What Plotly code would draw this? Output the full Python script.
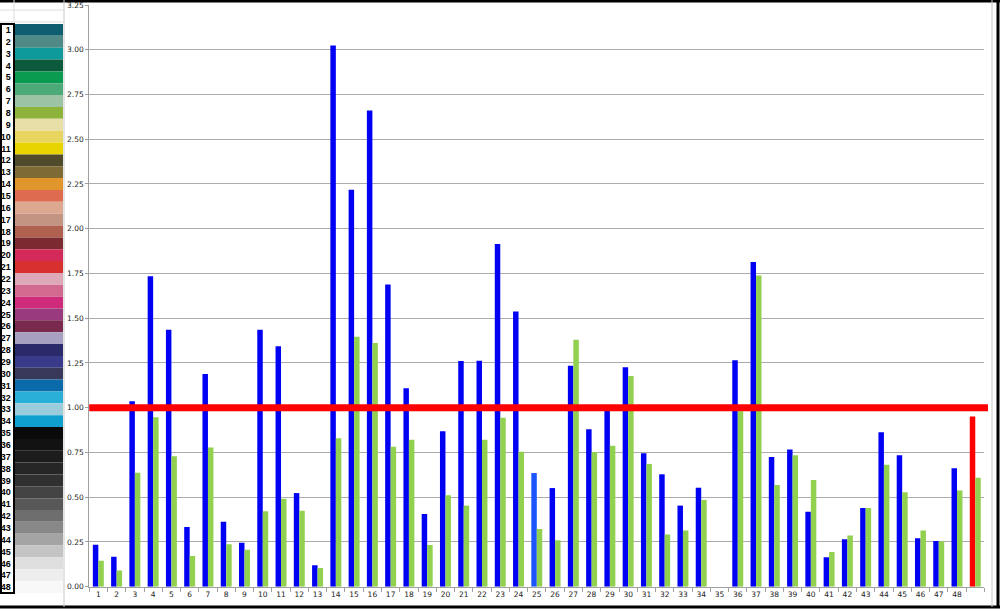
import plotly.graph_objects as go

# ---------------- data ----------------
CATEGORIES = list(range(1, 50))
TICK_LABELS = [str(i) for i in range(1, 49)] + [""]

BLUE_VALUES = [0.235, 0.167, 1.036, 1.735, 1.436, 0.333, 1.188, 0.363, 0.246, 1.436,
               1.344, 0.523, 0.120, 3.024, 2.218, 2.660, 1.688, 1.109, 0.406, 0.868,
               1.261, 1.263, 1.915, 1.538, 0.635, 0.551, 1.235, 0.880, 0.990, 1.226,
               0.746, 0.628, 0.453, 0.553, None, 1.265, 1.814, 0.724, 0.767, 0.419,
               0.165, 0.265, 0.440, 0.863, 0.735, 0.271, 0.256, 0.662, 0.951]

GREEN_VALUES = [0.145, 0.090, 0.637, 0.947, 0.729, 0.171, 0.778, 0.237, 0.207, 0.421,
                0.491, 0.425, 0.105, 0.829, 1.397, 1.361, 0.782, 0.821, 0.233, 0.511,
                0.453, 0.821, 0.944, 0.754, 0.323, 0.259, 1.380, 0.752, 0.788, 1.177,
                0.686, 0.291, 0.314, 0.485, None, 0.980, 1.739, 0.568, 0.735, 0.596,
                0.194, 0.286, 0.440, 0.682, 0.528, 0.314, 0.252, 0.538, 0.609]

THRESHOLD = 1.0
Y_TICKS = [i * 0.25 for i in range(14)]

SWATCH_IDS = [str(i) for i in range(1, 49)]
SWATCH_COLORS = ["#0E5E6F", "#4F8A87", "#0E9A9A", "#0C5A3C", "#0A9A50", "#4BAA78",
                 "#9DC3A5", "#8DB33A", "#E8DFA8", "#E8D560", "#E8D400", "#4E4A2A",
                 "#7E6A35", "#E0962A", "#DE6A50", "#DDA890", "#C49482", "#B0604E",
                 "#7A2A30", "#D42A5A", "#D8302E", "#DDA8B8", "#D26A90", "#D02A7A",
                 "#9A3A7E", "#7A2A4E", "#A8A0C0", "#2A2A6A", "#3A3A8A", "#38385A",
                 "#0A6AAA", "#2AB0D8", "#9ACCDC", "#10A0D0", "#0A0A0A", "#121212",
                 "#1C1C1C", "#262626", "#303030", "#444444", "#585858", "#6E6E6E",
                 "#888888", "#A4A4A4", "#C4C4C4", "#DEDEDE", "#EEEEEE", "#F8F8F8"]

# ---------------- styles ----------------
BLUE = "#0000F2"
BLUE_ALT = "#1A55FF"
RED = "#FF0000"
GREEN = "#92D050"

blue_colors = [BLUE] * len(CATEGORIES)
blue_colors[24] = BLUE_ALT
blue_colors[-1] = RED

W, H = 1000, 612

fig = go.Figure()

fig.add_trace(go.Bar(x=CATEGORIES, y=BLUE_VALUES, marker=dict(color=blue_colors, line=dict(width=0)),
                     name="A", showlegend=False))
fig.add_trace(go.Bar(x=CATEGORIES, y=GREEN_VALUES, marker=dict(color=GREEN, line=dict(width=0)),
                     name="B", showlegend=False))

fig.add_trace(go.Bar(y=SWATCH_IDS, x=[1] * len(SWATCH_IDS), orientation="h",
                     marker=dict(color=SWATCH_COLORS, line=dict(width=0)), width=1,
                     xaxis="x2", yaxis="y2", showlegend=False))

x_left, x_right = 89.2 / W, 984.4 / W
y_bottom, y_top = 1 - 586.7 / H, 1 - 5.0 / H

fig.update_layout(
    width=W, height=H,
    margin=dict(l=0, r=0, t=0, b=0, autoexpand=False),
    paper_bgcolor="white", plot_bgcolor="white",
    barmode="group", bargap=0.40, bargroupgap=0.0,
    font=dict(family="DejaVu Sans", color="#222222"),
    xaxis=dict(domain=[x_left, x_right], type="category", automargin=False,
               tickmode="array", tickvals=CATEGORIES, ticktext=TICK_LABELS, tickangle=0,
               ticks="outside", tickson="boundaries", ticklen=4, tickcolor="#A0A0A0",
               showline=True, linecolor="#A0A0A0", linewidth=1,
               tickfont=dict(size=7.5, color="#222222"), showgrid=False, fixedrange=True),
    yaxis=dict(domain=[y_bottom, y_top], range=[0, 3.25], automargin=False,
               tickmode="array", tickvals=Y_TICKS, tickformat=".2f",
               showgrid=True, gridcolor="#ABABAB", gridwidth=1,
               showline=True, linecolor="#A0A0A0", linewidth=1,
               ticks="outside", ticklen=3, tickcolor="#A0A0A0",
               tickfont=dict(size=7.5, color="#222222"), zeroline=False),
    xaxis2=dict(domain=[14.5 / W, 63 / W], range=[0, 1], anchor="y2", automargin=False,
                visible=False, showgrid=False),
    yaxis2=dict(domain=[1 - 593 / H, 1 - 24 / H], anchor="x2", type="category", automargin=False,
                categoryorder="array", categoryarray=SWATCH_IDS, autorange="reversed",
                showgrid=False, showline=True, linecolor="black", linewidth=2,
                ticks="", ticklabelstandoff=0,
                tickfont=dict(size=9, color="black", family="Liberation Sans", weight="bold")),
)

fig.add_hline(y=THRESHOLD, line=dict(color=RED, width=7), x0=0, x1=1.004, layer="above")

# spreadsheet frame decorations
frame = [
    dict(type="line", xref="paper", yref="paper", x0=0, x1=1, y0=1 - 1 / H, y1=1 - 1 / H,
         line=dict(color="black", width=3)),
    dict(type="line", xref="paper", yref="paper", x0=0, x1=1, y0=1 - 607 / H, y1=1 - 607 / H,
         line=dict(color="black", width=3)),
    dict(type="line", xref="paper", yref="paper", x0=998 / W, x1=998 / W, y0=1 - 607 / H, y1=1,
         line=dict(color="black", width=3)),
    dict(type="line", xref="paper", yref="paper", x0=992 / W, x1=992 / W, y0=1 - 607 / H, y1=1,
         line=dict(color="#C8C8C8", width=1)),
    dict(type="line", xref="paper", yref="paper", x0=64 / W, x1=64 / W, y0=1 - 607 / H, y1=1,
         line=dict(color="#C8C8C8", width=1)),
    dict(type="line", xref="paper", yref="paper", x0=0, x1=64 / W, y0=1 - 10 / H, y1=1 - 10 / H,
         line=dict(color="#DDDDDD", width=1)),
    dict(type="line", xref="paper", yref="paper", x0=0, x1=64 / W, y0=1 - 22 / H, y1=1 - 22 / H,
         line=dict(color="#DDDDDD", width=1)),
    dict(type="line", xref="paper", yref="paper", x0=14 / W, x1=14 / W, y0=1 - 24 / H, y1=1,
         line=dict(color="#DDDDDD", width=1)),
    dict(type="rect", xref="paper", yref="y2 domain", x0=1 / W, x1=14 / W, y0=0, y1=1,
         line=dict(color="black", width=2)),
]
for s in frame:
    fig.add_shape(**s)

fig.write_html("out.html", config={"displayModeBar": False},
               post_script="document.body.style.margin='0px';document.body.style.padding='0px';")
